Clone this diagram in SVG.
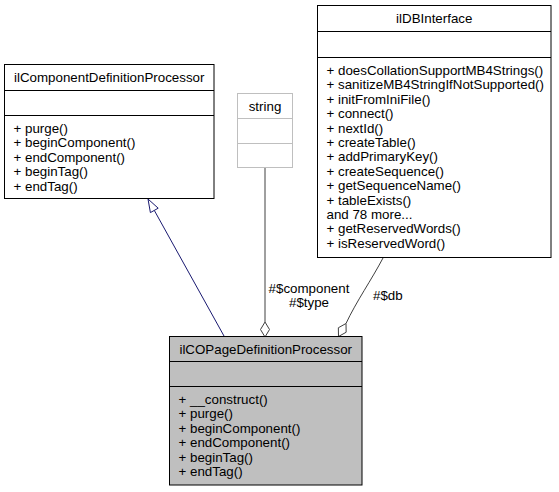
<svg xmlns="http://www.w3.org/2000/svg" width="559" height="492" viewBox="0 0 559 492">
<style>
text{font-family:"Liberation Sans",Arial,Helvetica,sans-serif;font-size:13.33px;fill:#000}
.c{text-anchor:middle}
.box{fill:#fff;stroke:#000;stroke-width:1}
.sep{stroke:#000;stroke-width:1}
.gbox{fill:#fff;stroke:#bfbfbf;stroke-width:1}
.gsep{stroke:#bfbfbf;stroke-width:1}
.main{fill:#bfbfbf;stroke:#000;stroke-width:1}
.inh{fill:none;stroke:#191970;stroke-width:1}
.inhHead{fill:#fff;stroke:#191970;stroke-width:1}
.use{fill:none;stroke:#404040;stroke-width:1}
.useHead{fill:#fff;stroke:#404040;stroke-width:1}
</style>
<rect width="559" height="492" fill="#fff"/>
<g id="connectors">
  <path class="inh" d="M224,336 L154.3,210.4"/>
  <polygon class="inhHead" points="148,199 158.2,208.2 150.4,212.6"/>
  <path class="use" d="M265,168 L265,322"/>
  <polygon class="useHead" points="265,322 269.5,329.5 265,337 260.5,329.5"/>
  <path class="use" d="M383,258 C372,279 356,302 346,323.5"/>
  <polygon class="useHead" points="346,323.5 346.15,332.25 338.5,336.5 338.35,327.75"/>
  <text class="c" x="309" y="293">#$component</text>
  <text class="c" x="309" y="307">#$type</text>
  <text x="373" y="300">#$db</text>
</g>
<g id="ilComponentDefinitionProcessor">
  <rect class="box" x="4.5" y="64.5" width="209.5" height="134"/>
  <line class="sep" x1="4.5" y1="90.5" x2="214" y2="90.5"/>
  <line class="sep" x1="4.5" y1="115.5" x2="214" y2="115.5"/>
  <text class="c" x="109.25" y="82">ilComponentDefinitionProcessor</text>
  <text x="13.5" y="133">+ purge()</text>
  <text x="13.5" y="147.4">+ beginComponent()</text>
  <text x="13.5" y="161.8">+ endComponent()</text>
  <text x="13.5" y="176.2">+ beginTag()</text>
  <text x="13.5" y="190.6">+ endTag()</text>
</g>
<g id="string">
  <rect class="gbox" x="237.5" y="93.5" width="55" height="74"/>
  <line class="gsep" x1="237.5" y1="118.5" x2="292.5" y2="118.5"/>
  <line class="gsep" x1="237.5" y1="143.5" x2="292.5" y2="143.5"/>
  <text class="c" x="265" y="111">string</text>
</g>
<g id="ilDBInterface">
  <rect class="box" x="317.5" y="5.5" width="233.5" height="252"/>
  <line class="sep" x1="317.5" y1="31.5" x2="551" y2="31.5"/>
  <line class="sep" x1="317.5" y1="57.5" x2="551" y2="57.5"/>
  <text class="c" x="434.25" y="23">ilDBInterface</text>
  <text x="326.5" y="75">+ doesCollationSupportMB4Strings()</text>
  <text x="326.5" y="89.4">+ sanitizeMB4StringIfNotSupported()</text>
  <text x="326.5" y="103.8">+ initFromIniFile()</text>
  <text x="326.5" y="118.2">+ connect()</text>
  <text x="326.5" y="132.6">+ nextId()</text>
  <text x="326.5" y="147">+ createTable()</text>
  <text x="326.5" y="161.4">+ addPrimaryKey()</text>
  <text x="326.5" y="175.8">+ createSequence()</text>
  <text x="326.5" y="190.2">+ getSequenceName()</text>
  <text x="326.5" y="204.6">+ tableExists()</text>
  <text x="326.5" y="219">and 78 more...</text>
  <text x="326.5" y="233.4">+ getReservedWords()</text>
  <text x="326.5" y="247.8">+ isReservedWord()</text>
</g>
<g id="ilCOPageDefinitionProcessor">
  <rect class="main" x="169.5" y="336.5" width="192.5" height="148.5"/>
  <line class="sep" x1="169.5" y1="361.5" x2="362" y2="361.5"/>
  <line class="sep" x1="169.5" y1="386.5" x2="362" y2="386.5"/>
  <text class="c" x="265.75" y="354">ilCOPageDefinitionProcessor</text>
  <text x="178.5" y="404">+ __construct()</text>
  <text x="178.5" y="418.4">+ purge()</text>
  <text x="178.5" y="432.8">+ beginComponent()</text>
  <text x="178.5" y="447.2">+ endComponent()</text>
  <text x="178.5" y="461.6">+ beginTag()</text>
  <text x="178.5" y="476">+ endTag()</text>
</g>
</svg>
